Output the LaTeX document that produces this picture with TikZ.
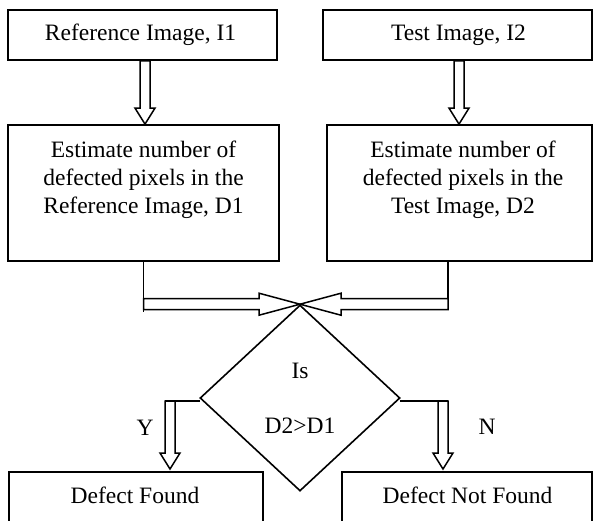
\documentclass[tikz,border=0pt]{standalone}
\usepackage{fontspec}
\setmainfont{Liberation Serif}
\usetikzlibrary{shapes.geometric,calc}
\tikzset{
  boxnode/.style={draw, line width=1.8pt, inner sep=0pt},
  txt/.style={align=center, inner sep=0pt},
  plainline/.style={line width=1.6pt},
  hollowdown/.style={line width=1.5pt, line join=miter, to path={
    let \p1=(\tikztostart), \p2=(\tikztotarget) in
    ({\x1-5pt},\y1) -- ({\x1-5pt},{\y2+16pt}) -- ({\x1-10pt},{\y2+16pt})
    -- (\x1,\y2) -- ({\x1+10pt},{\y2+16pt}) -- ({\x1+5pt},{\y2+16pt})
    -- ({\x1+5pt},\y1) -- cycle}},
  hollowhor/.style={line width=1.5pt, line join=miter, to path={
    let \p1=(\tikztostart), \p2=(\tikztotarget), \n1={(\x2>\x1)*2-1} in
    (\x1,{\y2+5.5pt}) -- ({\x2-(\n1)*41pt},{\y2+5.5pt}) -- ({\x2-(\n1)*41pt},{\y2+11pt})
    -- (\x2,\y2) -- ({\x2-(\n1)*41pt},{\y2-11pt}) -- ({\x2-(\n1)*41pt},{\y2-5.5pt})
    -- (\x1,{\y2-5.5pt}) -- cycle}}
}
\begin{document}
\begin{tikzpicture}[x=1pt, y=-1pt, font=\fontsize{23.5}{28}\selectfont]
\useasboundingbox (0,0) rectangle (593,520);
\clip (0,0) rectangle (593,520);

% top boxes
\node (r1) [boxnode, minimum width=269pt, minimum height=50pt] at (142.5,35) {};
\node (t1) [txt] at (140.5,35) {Reference Image, I1};
\node (r2) [boxnode, minimum width=269pt, minimum height=50pt] at (457.5,35) {};
\node (t2) [txt] at (458.5,35) {Test Image, I2};

% middle boxes
\node (r3) [boxnode, minimum width=271pt, minimum height=136pt] at (143.5,193) {};
\node (t3) [txt] at (143.5,180) {Estimate number of\\defected pixels in the\\Reference Image, D1};
\node (r4) [boxnode, minimum width=265pt, minimum height=136pt] at (459.5,193) {};
\node (t4) [txt] at (463,180) {Estimate number of\\defected pixels in the\\Test Image, D2};

% decision
\node (d) [diamond, draw, line width=1.6pt, minimum width=200pt, minimum height=186pt,
  inner sep=0pt, align=center] at (300,398) {Is\\[27pt]D2>D1};

% bottom boxes
\node (r5) [boxnode, anchor=north, minimum width=254pt, minimum height=90pt] at (136,471) {};
\node (t5) [txt] at (135,495) {Defect Found};
\node (r6) [boxnode, anchor=north, minimum width=250pt, minimum height=90pt] at (467,471) {};
\node (t6) [txt] at (467.5,495) {Defect Not Found};

% labels
\node (ly) [txt] at (145,428) {Y};
\node (ln) [txt] at (487,427) {N};

% arrows top -> middle
\draw[hollowdown] ($(r1.south)+(2.5,0)$) to (r3.north);
\draw[hollowdown] ($(r2.south)+(1.5,0)$) to (r4.north);

% middle -> decision
\coordinate (cl) at (143.5,306);
\coordinate (cr) at (448,306);
\draw[plainline] (r3.south) -- ($(cl)+(0,5.5)$);
\draw[plainline] (r4.south -| cr) -- ($(cr)+(0,-8)$);
\draw[hollowhor] (cl) to (d.north);
\draw[hollowhor] (cr) to (d.north);

% decision -> results
\coordinate (yl) at ($(d.west -| 170,0)+(0,3)$);
\coordinate (nr) at ($(d.east -| 443,0)+(0,3)$);
\draw[plainline] ($(d.west)+(1,3)$) -- ($(yl)+(-5,0)$);
\draw[plainline] ($(d.east)+(-1,3)$) -- ($(nr)+(5,0)$);
\draw[hollowdown] (yl) to ($(r5.north -| yl)+(0,-2)$);
\draw[hollowdown] (nr) to ($(r6.north -| nr)+(0,-2)$);
\end{tikzpicture}
\end{document}
